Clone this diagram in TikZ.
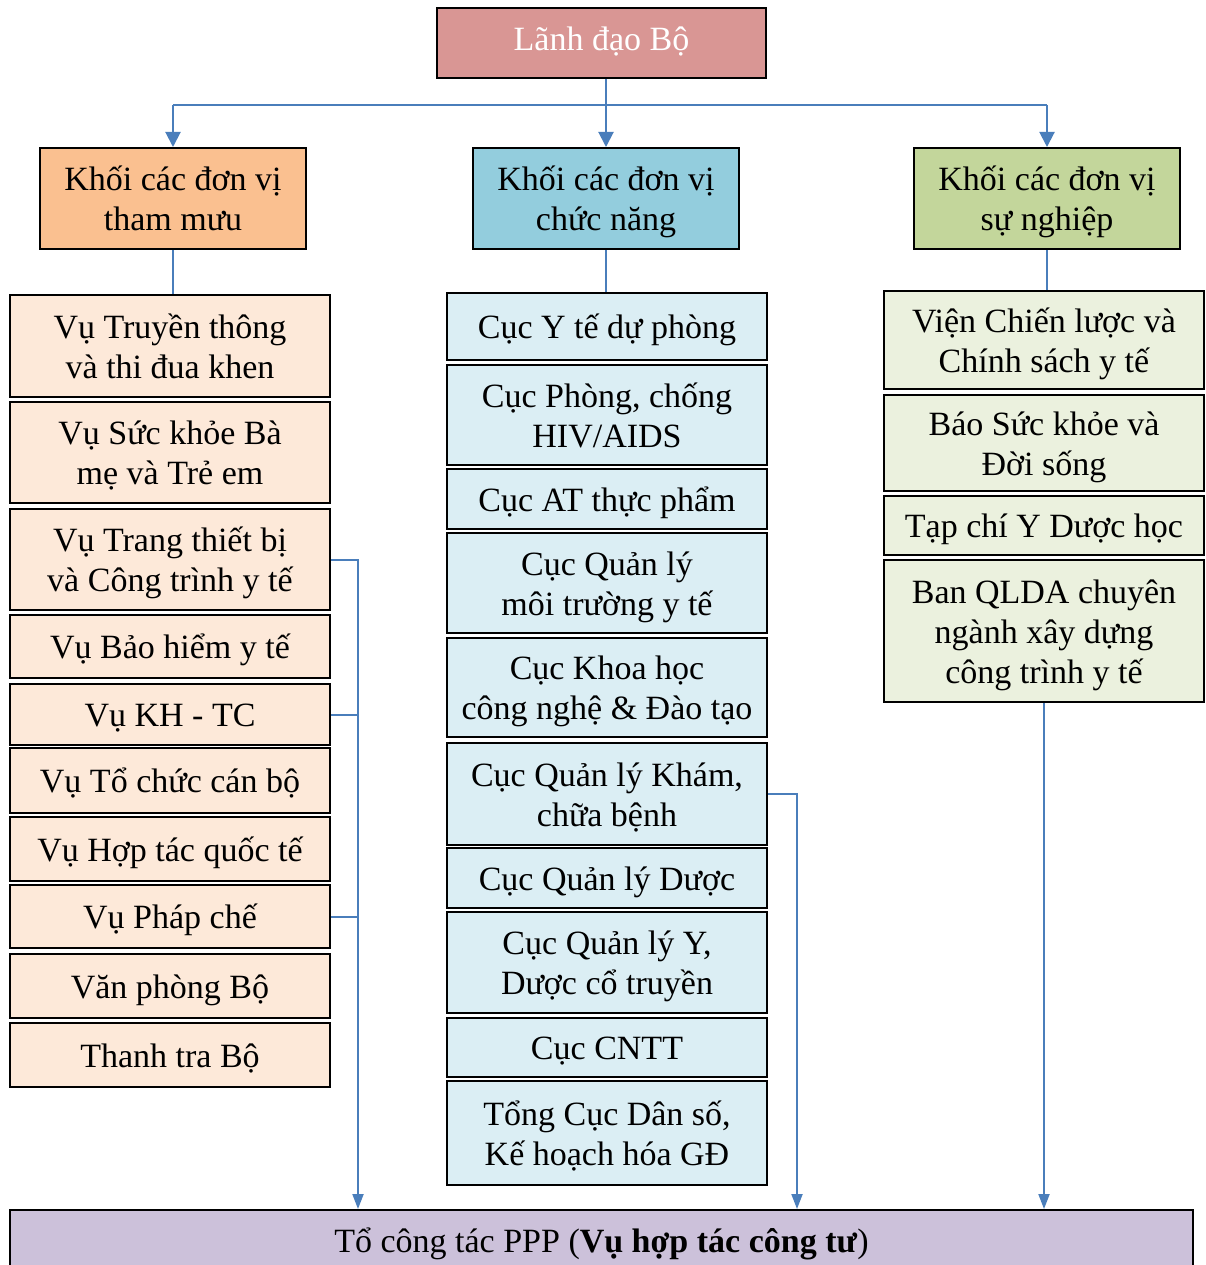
\documentclass[tikz,border=0pt]{standalone}
\usepackage{fontspec}
\setmainfont{Liberation Serif}
\usetikzlibrary{arrows.meta,calc}
\definecolor{topfill}{HTML}{D99694}
\definecolor{tmfill}{HTML}{FAC090}
\definecolor{cnfill}{HTML}{93CDDD}
\definecolor{snfill}{HTML}{C3D69B}
\definecolor{tmlight}{HTML}{FDE9D9}
\definecolor{cnlight}{HTML}{DBEEF4}
\definecolor{snlight}{HTML}{EBF1DE}
\definecolor{pppfill}{HTML}{CCC1DA}
\definecolor{connblue}{HTML}{4A7EBB}
% stacked lines with a fixed 40pt pitch, baseline 32pt below the top of each row
\newcommand{\rows}[1]{{\setbox\strutbox\hbox{\vrule height32pt depth8pt width0pt}%
  \begin{tabular}{@{}c@{}}#1\end{tabular}}}
% same, with the plain strut (baseline 28pt below the top of the row)
\newcommand{\plainrows}[1]{\begin{tabular}{@{}c@{}}#1\end{tabular}}
\begin{document}
\begin{tikzpicture}[x=1pt,y=-1pt,
  box/.style={draw=black,line width=2pt,inner sep=0pt,
    font=\fontsize{34}{40}\selectfont,text=black},
  headbox/.style={box,minimum width=266pt,minimum height=101pt},
  unitbox/.style={box,minimum width=320pt},
  conn/.style={draw=connblue,line width=2pt},
  arr/.style={conn,-{Triangle[width=15pt,length=15pt]}},
  arrthin/.style={conn,-{Triangle[width=11pt,length=15pt]}}]
\clip (0,0) rectangle (1205,1265);
\fill[white] (0,0) rectangle (1205,1265);

% leadership
\node[box,fill=topfill,text=white,minimum width=329pt,minimum height=70pt] (top) at (601.5,43) {\plainrows{Lãnh đạo Bộ}};

% the three blocks
\node[headbox,fill=tmfill] (T) at (173,198.5) {\rows{Khối các đơn vị\\tham mưu}};
\node[headbox,fill=cnfill] (F) at (606,198.5) {\rows{Khối các đơn vị\\chức năng}};
\node[headbox,fill=snfill] (S) at (1047,198.5) {\rows{Khối các đơn vị\\sự nghiệp}};

% advisory units
\node[unitbox,fill=tmlight,minimum height=102pt] (L1) at (170,346) {\rows{Vụ Truyền thông\\và thi đua khen}};
\node[unitbox,fill=tmlight,minimum height=101pt] (L2) at (170,452.5) {\rows{Vụ Sức khỏe Bà\\mẹ và Trẻ em}};
\node[unitbox,fill=tmlight,minimum height=101pt] (L3) at (170,559.5) {\rows{Vụ Trang thiết bị\\và Công trình y tế}};
\node[unitbox,fill=tmlight,minimum height=63pt] (L4) at (170,646.5) {\rows{Vụ Bảo hiểm y tế}};
\node[unitbox,fill=tmlight,minimum height=61pt] (L5) at (170,714.5) {\rows{Vụ KH - TC}};
\node[unitbox,fill=tmlight,minimum height=65pt] (L6) at (170,780.5) {\rows{Vụ Tổ chức cán bộ}};
\node[unitbox,fill=tmlight,minimum height=64pt] (L7) at (170,849) {\rows{Vụ Hợp tác quốc tế}};
\node[unitbox,fill=tmlight,minimum height=63pt] (L8) at (170,916.5) {\rows{Vụ Pháp chế}};
\node[unitbox,fill=tmlight,minimum height=64pt] (L9) at (170,986) {\rows{Văn phòng Bộ}};
\node[unitbox,fill=tmlight,minimum height=64pt] (L10) at (170,1055) {\rows{Thanh tra Bộ}};

% functional units
\node[unitbox,fill=cnlight,minimum height=67pt] (M1) at (607,326.5) {\rows{Cục Y tế dự phòng}};
\node[unitbox,fill=cnlight,minimum height=100pt] (M2) at (607,415) {\rows{Cục Phòng, chống\\HIV/AIDS}};
\node[unitbox,fill=cnlight,minimum height=60pt] (M3) at (607,499) {\rows{Cục AT thực phẩm}};
\node[unitbox,fill=cnlight,minimum height=100pt] (M4) at (607,583) {\rows{Cục Quản lý\\môi trường y tế}};
\node[unitbox,fill=cnlight,minimum height=99pt] (M5) at (607,687.5) {\rows{Cục Khoa học\\công nghệ \& Đào tạo}};
\node[unitbox,fill=cnlight,minimum height=102pt] (M6) at (607,794) {\rows{Cục Quản lý Khám,\\chữa bệnh}};
\node[unitbox,fill=cnlight,minimum height=60pt] (M7) at (607,878) {\rows{Cục Quản lý Dược}};
\node[unitbox,fill=cnlight,minimum height=101pt] (M8) at (607,962.5) {\rows{Cục Quản lý Y,\\Dược cổ truyền}};
\node[unitbox,fill=cnlight,minimum height=59pt] (M9) at (607,1047.5) {\rows{Cục CNTT}};
\node[unitbox,fill=cnlight,minimum height=104pt] (M10) at (607,1133) {\rows{Tổng Cục Dân số,\\Kế hoạch hóa GĐ}};

% public service units
\node[unitbox,fill=snlight,minimum height=98pt] (R1) at (1044,340) {\rows{Viện Chiến lược và\\Chính sách y tế}};
\node[unitbox,fill=snlight,minimum height=96pt] (R2) at (1044,443) {\rows{Báo Sức khỏe và\\Đời sống}};
\node[unitbox,fill=snlight,minimum height=59pt] (R3) at (1044,525.5) {\rows{Tạp chí Y Dược học}};
\node[unitbox,fill=snlight,minimum height=142pt] (R4) at (1044,631) {\rows{Ban QLDA chuyên\\ngành xây dựng\\công trình y tế}};

% PPP working group
\node[box,fill=pppfill,minimum width=1183pt,minimum height=68pt] (PPP) at (601.5,1244) {\plainrows{Tổ công tác PPP (\textbf{Vụ hợp tác công tư})}};

% distribution from leadership
\coordinate (bus) at (0,105);
\coordinate (lx) at (358,0);
\coordinate (mx) at (797,0);
\draw[arr] (F.north |- top.south) -- (F.north);
\draw[conn] (T.north |- bus) -- (S.north |- bus);
\draw[arr] (T.north |- bus) -- (T.north);
\draw[arr] (S.north |- bus) -- (S.north);

% block heads to their units
\draw[conn] (T.south) -- (T.south |- L1.north);
\draw[conn] (F.south) -- (F.south |- M1.north);
\draw[conn] (S.south) -- (S.south |- R1.north);

% links to the PPP working group
\draw[arrthin] (L3.east) -| (lx |- PPP.north);
\draw[conn] (L5.east) -- (L5.east -| lx);
\draw[conn] (L8.east) -- (L8.east -| lx);
\draw[arrthin] (M6.east) -| (mx |- PPP.north);
\draw[arrthin] (R4.south) -- (R4.south |- PPP.north);
\end{tikzpicture}
\end{document}
